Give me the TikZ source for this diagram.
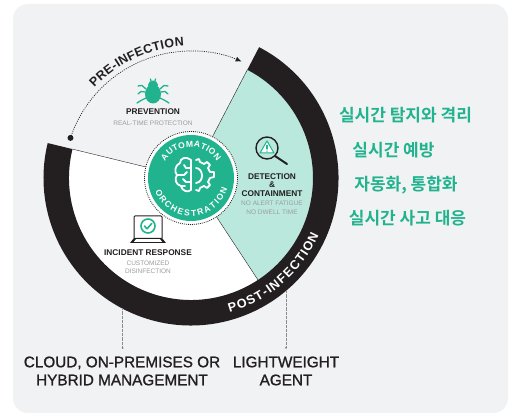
\documentclass[tikz,border=0pt]{standalone}
\usepackage{fontspec}
\setmainfont{Liberation Sans}
\newfontfamily\krfont{Noto Sans CJK KR Bold}
\newfontfamily\medfont[FakeBold=1.2]{Liberation Sans}
\usetikzlibrary{decorations.text,arrows.meta}
\definecolor{panel}{HTML}{F1F2F4}
\definecolor{ringblk}{HTML}{231F20}
\definecolor{mint}{HTML}{BBE8DC}
\definecolor{grn}{HTML}{20B38E}
\definecolor{sub}{HTML}{9A9C9F}
\tikzset{
  title/.style={font=\bfseries\fontsize{8.3}{9}\selectfont,text=ringblk,inner sep=0pt,align=center},
  subt/.style={font=\fontsize{6.5}{8}\selectfont,text=sub,inner sep=0pt,align=center},
  bigt/.style={font=\medfont\fontsize{15.3}{18}\selectfont,text=ringblk,inner sep=0pt,align=center},
  kr/.style={font=\krfont\fontsize{17}{19}\selectfont,text=grn,inner sep=0pt},
  leader/.style={draw=black!45,line width=.6pt,dash pattern=on .7pt off .6pt},
  icon/.style={line cap=round,line join=round},
}
\begin{document}
\begin{tikzpicture}[x=1pt,y=1pt]
\useasboundingbox (0,0) rectangle (512,414);
\fill[white] (0,0) rectangle (512,414);
\fill[panel,rounded corners=15pt] (13,1) rectangle (508,410);
% wheel
\begin{scope}[shift={(191,236)}]
  \fill[mint] (0,0) -- (62.5:122) arc[start angle=62.5,end angle=-56.7,radius=122] -- cycle;
  \fill[white] (0,0) -- (-56.7:122) arc[start angle=-56.7,end angle=-193.7,radius=122] -- cycle;
  \fill[ringblk] (62.5:147.5) arc[start angle=62.5,end angle=-193.7,radius=147.5]
     -- (-193.7:122) arc[start angle=-193.7,end angle=62.5,radius=122] -- cycle;
  \draw[ringblk,line width=.4pt] (0,0) -- (62.5:122);
  \draw[ringblk,line width=.4pt] (0,0) -- (-56.7:122);
  \draw[ringblk,line width=.4pt] (0,0) -- (-193.7:122);
  \fill[white] (0,0) circle[radius=46.5];
  \draw[ringblk,line width=.8pt,dash pattern=on .9pt off 1.1pt] (0,0) circle[radius=46.5];
  \fill[grn] (0,0) circle[radius=43];
  % pre-infection arc
  \draw[ringblk,line width=.7pt,dash pattern=on 1pt off 1.2pt,-{Latex[length=6pt,width=5pt]}] (161.6:127) arc[start angle=161.6,end angle=66.5,radius=127];
  \fill[ringblk] (161.6:127) circle[radius=3];
  % curved texts
  \path[decorate,decoration={text along path,text align={fit to path},
     text={|\bfseries\fontsize{12.5}{13}\selectfont\color{ringblk}|PRE-INFECTION}}]
     (137:132) arc[start angle=137,end angle=93,radius=132];
  \path[decorate,decoration={text along path,text align={fit to path},
     text={|\bfseries\fontsize{12.6}{14}\selectfont\color{white}|POST-INFECTION}}]
     (-74:140) arc[start angle=-74,end angle=-24,radius=140];
  \path[decorate,decoration={text along path,text align={fit to path},
     text={|\bfseries\fontsize{8.6}{9}\selectfont\color{white}|AUTOMATION}}]
     (147:31) arc[start angle=147,end angle=33,radius=31];
  \path[decorate,decoration={text along path,text align={fit to path},
     text={|\bfseries\fontsize{8.6}{9}\selectfont\color{white}|ORCHESTRATION}}]
     (-160:38) arc[start angle=-160,end angle=-17,radius=38];
\end{scope}
% brain + gear (local pixel coordinates, y down)
\begin{scope}[shift={(191,239)},y=-1pt,white,line width=1.8pt,icon]
  \draw (0,-15) .. controls (-5,-19) and (-11,-17) .. (-11,-12)
        .. controls (-16,-10) and (-17,-3) .. (-14,0)
        .. controls (-17,4) and (-15,10) .. (-10,11)
        .. controls (-9,16) and (-3,18) .. (0,15) -- cycle;
  \draw (0,-7) -- (-5,-7) -- (-7,-10);
  \draw (-14,0) -- (-7,0) -- (-4,-3);
  \draw (0,7) -- (-5,7) -- (-8,4);
  \draw (-10,11) -- (-6,11);
  \draw (5,-7) .. controls (12,-7) and (14,7) .. (5,8);
  \draw (5,-15) -- (8,-16) -- (9,-13) -- (13,-11) -- (16,-13) -- (19,-10) -- (17,-7) -- (19,-3) -- (23,-3) -- (23,2) -- (19,3) -- (17,7) -- (19,10) -- (16,13) -- (13,11) -- (9,13) -- (8,16) -- (5,15);
\end{scope}
% bug
\begin{scope}[shift={(153,323)},y=-1pt,grn,line width=1.3pt,icon]
  \fill (0,3) ellipse[x radius=8,y radius=9.5];
  \fill (0,-6) ellipse[x radius=5,y radius=4.5];
  \draw (-2,-10) -- (-2.5,-12) (2,-10) -- (2.5,-12);
  \draw (-7,-2) -- (-11,-5.5) -- (-15,-5);
  \draw (7,-2) -- (11,-5.5) -- (15,-5);
  \draw (-8,1) -- (-12,0.5) -- (-15,3);
  \draw (8,1) -- (12,0.5) -- (15,3);
  \draw (-7,7) -- (-12,9.5) -- (-16,12);
  \draw (7,7) -- (12,9.5) -- (16,12);
\end{scope}
% magnifier
\begin{scope}[shift={(267,266)},y=-1pt,icon]
  \draw[ringblk,line width=1.4pt] (0,0) circle[radius=11];
  \draw[ringblk,line width=2pt] (8,8) -- (20,16);
  \draw[grn,fill=white,line width=1pt] (0,-7) -- (7,5) -- (-7,5) -- cycle;
  \draw[grn,line width=1.1pt] (0,-2.5) -- (0,1);
  \fill[grn] (0,3.2) circle[radius=.7];
\end{scope}
% laptop
\begin{scope}[shift={(148,188)},y=-1pt,icon]
  \draw[ringblk,line width=1pt,rounded corners=1pt] (-14,12) -- (-14,-10) -- (14,-10) -- (14,12);
  \fill[ringblk] (-14,12) -- (14,12) -- (18,17) -- (-18,17) -- cycle;
  \fill[white] (-12,13.2) -- (12,13.2) -- (14,15.8) -- (-14,15.8) -- cycle;
  \draw[grn,line width=1.6pt] (0,0) circle[radius=7];
  \draw[grn,line width=1.6pt] (-3.5,0) -- (-1,2.8) -- (3.8,-2.5);
\end{scope}
% labels
\node[title] (prev) at (153,302) {PREVENTION};
\node[subt] (prevs) at (153,291) {REAL-TIME PROTECTION};
\node[title] (det) at (272,237) {DETECTION};
\node[title] (amp) at (272,229) {\&};
\node[title] (con) at (272,220) {CONTAINMENT};
\node[subt] (dets) at (272,211) {NO ALERT FATIGUE};
\node[subt] (dets2) at (272,202) {NO DWELL TIME};
\node[title] (inc) at (148,161) {INCIDENT RESPONSE};
\node[subt] (incs) at (148,151) {CUSTOMIZED};
\node[subt] (incs2) at (148,143) {DISINFECTION};
\node[bigt] (cloud) at (122,43) {CLOUD, ON-PREMISES OR\\HYBRID MANAGEMENT};
\node[bigt] (agent) at (286,43) {LIGHTWEIGHT\\AGENT};
\coordinate (la) at (122.7,106);
\coordinate (lb) at (286,123);
\coordinate (ea) at (122.7,66);
\coordinate (eb) at (286,66);
\draw[leader] (la) -- (ea);
\draw[leader] (lb) -- (eb);
\fill[black!50] (ea) circle[radius=1];
\fill[black!50] (eb) circle[radius=1];
\node[kr] (k1) at (405.5,299) {실시간 탐지와 격리};
\node[kr] (k2) at (393.5,264) {실시간 예방};
\node[kr] (k3) at (406,229) {자동화, 통합화};
\node[kr] (k4) at (407.5,196) {실시간 사고 대응};
\end{tikzpicture}
\end{document}
